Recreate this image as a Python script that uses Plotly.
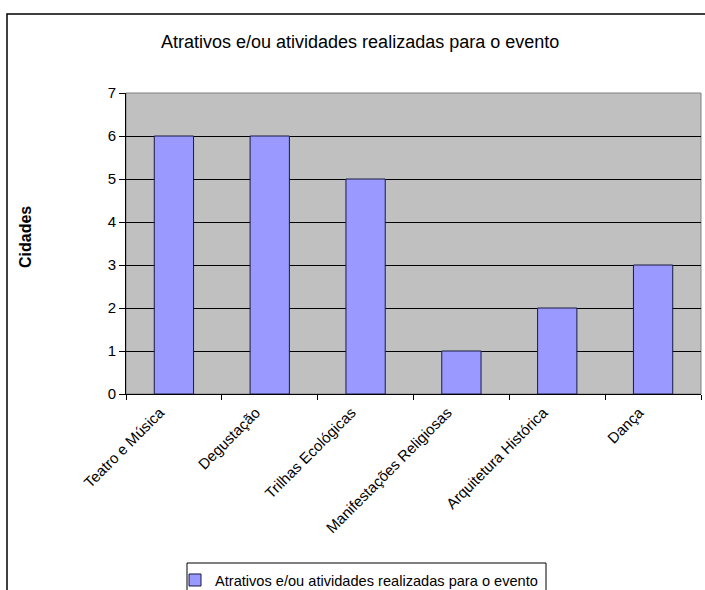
import plotly.graph_objects as go

categories = ["Teatro e Música", "Degustação", "Trilhas Ecológicas",
              "Manifestações Religiosas", "Arquitetura Histórica", "Dança"]
values = [6, 6, 5, 1, 2, 3]
series_name = "Atrativos e/ou atividades realizadas para o evento"
chart_title = "Atrativos e/ou atividades realizadas para o evento"
y_title = "Cidades"
y_ticks = [0, 1, 2, 3, 4, 5, 6, 7]

W, H = 705, 590
L, R, T, B = 126, 4, 93, 196
pw = W - L - R
ph = H - T - B

def px_x(p):
    return (p - L) / pw

def px_y(p):
    return (H - B - p) / ph

fig = go.Figure()
fig.add_trace(go.Bar(
    x=categories, y=values, name=series_name,
    marker=dict(color="#9999FF", line=dict(color="#1a1a40", width=1)),
    width=0.41, showlegend=True,
))

font = "Arial, Liberation Sans, sans-serif"
fig.update_layout(
    width=W, height=H,
    margin=dict(l=L, r=R, t=T, b=B, autoexpand=False),
    paper_bgcolor="white", plot_bgcolor="#C0C0C0",
    font=dict(family=font, size=14, color="black"),
    showlegend=True,
    legend=dict(
        x=px_x(175), y=px_y(564), xanchor="left", yanchor="top",
        orientation="h", borderwidth=0,
        bgcolor="rgba(0,0,0,0)", font=dict(size=14.6, family=font),
        itemwidth=30, tracegroupgap=0,
    ),
)
fig.update_xaxes(
    type="category", tickangle=-45, tickson="boundaries",
    ticks="outside", ticklen=5, tickcolor="black",
    showline=True, linecolor="black", linewidth=1,
    showgrid=False, tickfont=dict(size=15, family=font),
    ticklabelshift=-14, ticklabelstandoff=3,
    range=[-0.5, 5.5],
)
fig.update_yaxes(
    range=[0, 7], tickvals=y_ticks, ticks="outside", ticklen=6,
    tickcolor="black", showline=True, linecolor="black", linewidth=1,
    showgrid=True, gridcolor="black", gridwidth=1, zeroline=False,
    tickfont=dict(size=15, family=font),
)
# plot-area border (top/right gray)
fig.add_shape(type="rect", xref="paper", yref="paper", x0=0, y0=0, x1=1, y1=1,
              line=dict(color="#808080", width=1), layer="below")
# outer chart frame
fig.add_shape(type="rect", xref="paper", yref="paper",
              x0=px_x(7), y0=px_y(620), x1=px_x(720), y1=px_y(14),
              line=dict(color="black", width=1.5))
# legend frame
fig.add_shape(type="rect", xref="paper", yref="paper",
              x0=px_x(187), y0=px_y(610), x1=px_x(546), y1=px_y(563),
              line=dict(color="black", width=1))
fig.add_annotation(text=chart_title, xref="paper", yref="paper",
                   x=px_x(360), y=px_y(42), showarrow=False,
                   font=dict(size=18, family=font), xanchor="center", yanchor="middle")
fig.add_annotation(text="<b>" + y_title + "</b>", xref="paper", yref="paper",
                   x=px_x(25), y=px_y(237), showarrow=False, textangle=-90,
                   font=dict(size=16, family=font), xanchor="center", yanchor="middle")

fig.write_html("out.html", config={"displayModeBar": False},
               post_script="document.body.style.margin='0';document.body.style.overflow='hidden';")
